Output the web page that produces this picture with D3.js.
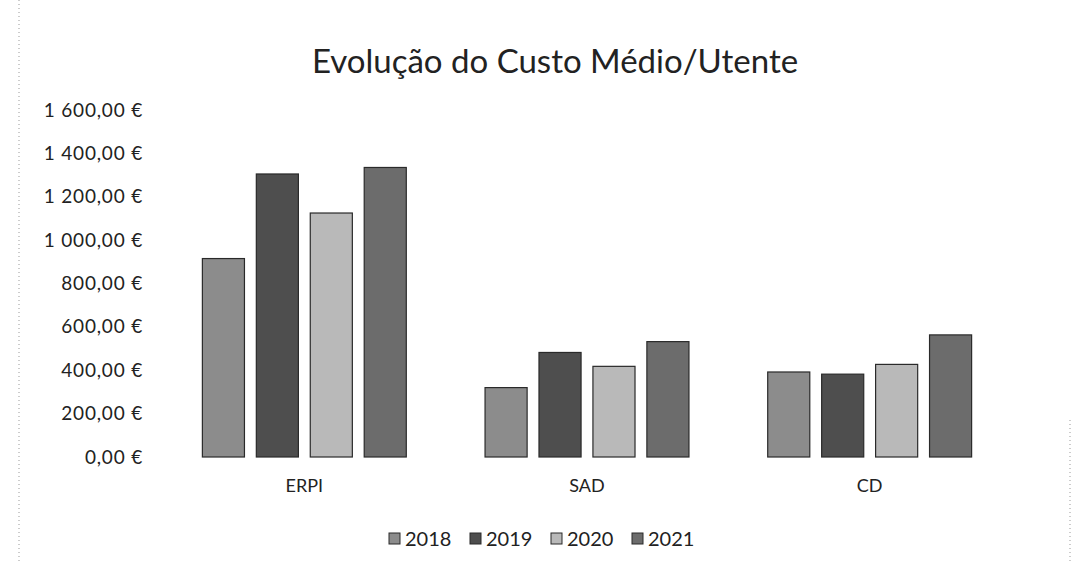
<!DOCTYPE html>
<html>
<head>
<meta charset="utf-8">
<script src="https://cdn.jsdelivr.net/npm/d3@7"></script>
<style>
  body { margin: 0; background: #fff; }
  svg { display: block; font-family: Lato, "Open Sans", sans-serif; }
</style>
</head>
<body>
<svg id="chart" width="1073" height="563"></svg>
<script>
// chart data
const categories = ['ERPI', 'SAD', 'CD'];
const years = ['2018', '2019', '2020', '2021'];
const v2018 = [915, 320, 392];
const v2019 = [1305, 482, 382];
const v2020 = [1125, 418, 427];
const v2021 = [1335, 532, 563];
const yTicks = [0, 200, 400, 600, 800, 1000, 1200, 1400, 1600];

const series = [v2018, v2019, v2020, v2021];
const colors = ['#8c8c8c', '#4e4e4e', '#b9b9b9', '#6c6c6c'];

const svg = d3.select('#chart');

// chart area border (scan remnants)
svg.append('line').attr('x1', 19).attr('x2', 19).attr('y1', 0).attr('y2', 563)
  .attr('stroke', '#999').attr('stroke-dasharray', '1,3');
svg.append('line').attr('x1', 1070).attr('x2', 1070).attr('y1', 420).attr('y2', 563)
  .attr('stroke', '#999').attr('stroke-dasharray', '1,3');

// title
svg.append('text')
  .attr('x', 555).attr('y', 73)
  .attr('text-anchor', 'middle')
  .attr('font-size', 33)
  .attr('fill', '#222')
  .text('Evolução do Custo Médio/Utente');

const x = d3.scaleBand().domain(categories).range([163, 1011]);
const xs = d3.scaleBand().domain(years).range([0, x.bandwidth()])
  .paddingInner(0.22).paddingOuter(0.73);
const y = d3.scaleLinear().domain([0, 1600]).range([457, 110]);

const fmt = d => {
  const s = d3.format(',.2f')(d).replace(/,/g, ' ').replace('.', ',');
  return s + ' €';
};

// y axis labels
const yAxis = d3.axisLeft(y).tickValues(yTicks).tickFormat(fmt).tickSize(0).tickPadding(0);
const gy = svg.append('g').attr('transform', 'translate(143,0)').call(yAxis);
gy.select('.domain').remove();
gy.selectAll('text').attr('font-size', 19).attr('letter-spacing', 0.8)
  .attr('fill', '#222').attr('font-family', 'Lato, sans-serif');

// bars
const rows = [];
categories.forEach((c, i) => {
  years.forEach((yr, j) => rows.push({ cat: c, year: yr, value: series[j][i], k: j }));
});

svg.append('g').selectAll('rect')
  .data(rows)
  .enter().append('rect')
  .attr('x', d => x(d.cat) + xs(d.year))
  .attr('y', d => y(d.value))
  .attr('width', xs.bandwidth())
  .attr('height', d => y(0) - y(d.value))
  .attr('fill', d => colors[d.k])
  .attr('stroke', '#2a2a2a')
  .attr('stroke-width', 1.2);

// category labels
const xAxis = d3.axisBottom(x).tickSize(0).tickPadding(0);
const gx = svg.append('g').attr('transform', 'translate(0,479)').call(xAxis);
gx.select('.domain').remove();
gx.selectAll('text').attr('font-size', 18).attr('fill', '#222').attr('font-family', 'Lato, sans-serif');

// legend
const legend = svg.append('g').attr('transform', 'translate(389,539)');
const item = legend.selectAll('g')
  .data(years)
  .enter().append('g')
  .attr('transform', (d, i) => 'translate(' + i * 81 + ',0)');
item.append('rect')
  .attr('x', 0).attr('y', -6).attr('width', 11).attr('height', 11)
  .attr('fill', (d, i) => colors[i]).attr('stroke', '#2a2a2a').attr('stroke-width', 1);
item.append('text')
  .attr('x', 16).attr('y', 7)
  .attr('font-size', 20).attr('fill', '#222')
  .text(d => d);
</script>
</body>
</html>
